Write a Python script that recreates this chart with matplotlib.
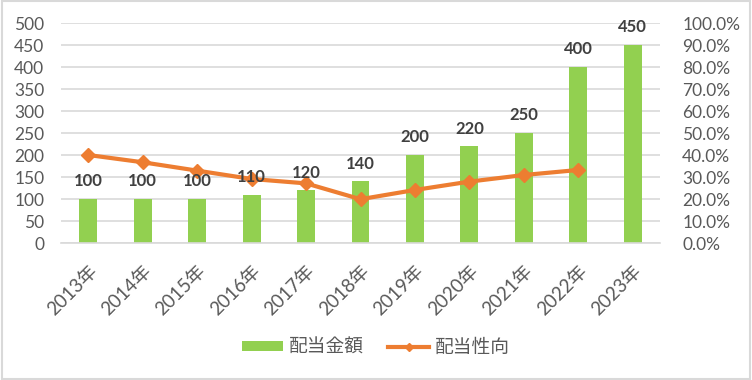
import matplotlib
matplotlib.use("Agg")
import matplotlib.pyplot as plt
from matplotlib.patches import Rectangle

plt.rcParams['font.family'] = ['Lato', 'Noto Sans CJK JP', 'DejaVu Sans']

years = ["2013年", "2014年", "2015年", "2016年", "2017年", "2018年",
         "2019年", "2020年", "2021年", "2022年", "2023年"]
dividends = [100, 100, 100, 110, 120, 140, 200, 220, 250, 400, 450]
payout = [40.0, 36.7, 32.9, 29.1, 27.1, 19.9, 24.1, 27.9, 30.9, 33.2, None]

green = "#92D050"
orange = "#ED7D31"
grid = "#D9D9D9"
tickc = "#595959"

fig = plt.figure(figsize=(7.52, 3.8), dpi=100)
fig.patches.append(Rectangle((0.002, 0.003), 0.996, 0.994, transform=fig.transFigure,
                             fill=False, edgecolor="#D9D9D9", linewidth=1.5))
ax = fig.add_axes([61/752, 1-243/380, (660-61)/752, (243-23)/380])
ax2 = ax.twinx()

x = list(range(len(years)))
ax.bar(x, dividends, width=0.33, color=green, zorder=2, label="配当金額")

px = [xi for xi, p in zip(x, payout) if p is not None]
pv = [p for p in payout if p is not None]
ax2.plot(px, pv, color=orange, linewidth=3, marker="D", markersize=7,
         zorder=4, label="配当性向")

for xi, v in zip(x, dividends):
    ax2.text(xi, v + 22, f"{v}", ha="center", va="bottom", fontsize=12,
             fontweight="bold", color="#404040", zorder=6,
             transform=ax.transData)

ax.set_xlim(-0.5, len(years) - 0.5)
ax.set_ylim(0, 500)
ax.set_yticks(range(0, 501, 50))
ax2.set_ylim(0, 100)
ax2.set_yticks(range(0, 101, 10))
ax2.set_yticklabels([f"{v:.1f}%" for v in range(0, 101, 10)])

ax.yaxis.grid(True, color=grid, linewidth=1.2, zorder=0)
ax.set_axisbelow(True)
for a in (ax, ax2):
    for s in a.spines.values():
        s.set_visible(False)
    a.tick_params(length=0, colors=tickc, labelsize=12.5)
ax.spines['bottom'].set_visible(True)
ax.spines['bottom'].set_color(grid)
ax.spines['bottom'].set_linewidth(1.2)

ax.set_xticks(x)
ax.set_xticklabels(years, rotation=45, ha="right", rotation_mode="anchor",
                   fontsize=13.5, color=tickc)
ax.tick_params(axis='x', pad=14)
ax.tick_params(axis='y', pad=12)
ax2.tick_params(axis='y', pad=16)

ax.set_zorder(ax2.get_zorder() - 1)
ax.patch.set_visible(False)

h1, l1 = ax.get_legend_handles_labels()
h2, l2 = ax2.get_legend_handles_labels()
fig.legend(h1 + h2, l1 + l2, loc="center", bbox_to_anchor=(0.5, 1-347/380),
           ncol=2, frameon=False, fontsize=13.5, labelcolor=tickc,
           handlelength=2.2, handleheight=0.5, columnspacing=1.3,
           handletextpad=0.3, markerscale=0.6)

fig.savefig("out.png", dpi=100)
